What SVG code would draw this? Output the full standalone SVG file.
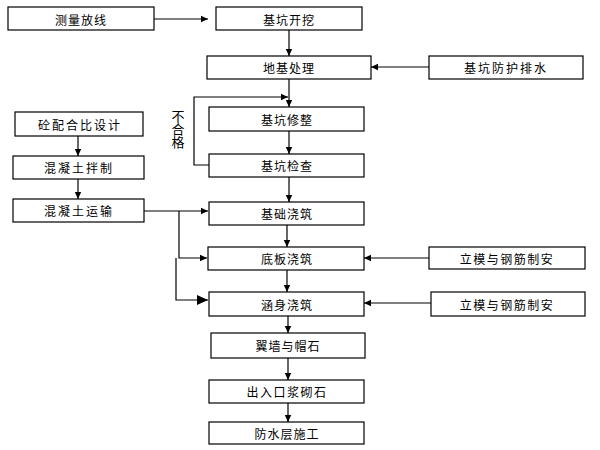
<svg xmlns="http://www.w3.org/2000/svg" width="600" height="450" viewBox="0 0 600 450">
<style>
.box{fill:#fff;stroke:#000;stroke-width:1.2}
.t{font-family:"Noto Sans CJK SC","Noto Sans",sans-serif;font-size:12px;text-anchor:middle;dominant-baseline:central;fill:#000;letter-spacing:1px}
.v{font-family:"Noto Sans CJK SC","Noto Sans",sans-serif;font-size:13px;text-anchor:middle;fill:#000;writing-mode:vertical-rl}
.c{fill:none;stroke:#000;stroke-width:1.2}
</style>
<defs>
<marker id="a" markerWidth="8" markerHeight="8" refX="7" refY="4" orient="auto" markerUnits="userSpaceOnUse"><path d="M0,0.8 L7,4 L0,7.2 Z" fill="#000"/></marker>
<marker id="b" markerWidth="12" markerHeight="10" refX="11" refY="5" orient="auto" markerUnits="userSpaceOnUse"><path d="M0,0 L11,5 L0,10 Z" fill="#000"/></marker>
</defs>
<g id="connectors">
<line class="c" x1="154" y1="19" x2="208" y2="19" marker-end="url(#a)"/>
<line class="c" x1="289" y1="30" x2="289" y2="56" marker-end="url(#a)"/>
<line class="c" x1="429" y1="67" x2="371" y2="67" marker-end="url(#a)"/>
<line class="c" x1="289" y1="79" x2="289" y2="107" marker-end="url(#a)"/>
<polyline class="c" points="209,165 194,165 194,97 288,97" marker-end="url(#a)"/>
<line class="c" x1="289" y1="131" x2="289" y2="154" marker-end="url(#a)"/>
<line class="c" x1="289" y1="177" x2="289" y2="202" marker-end="url(#a)"/>
<line class="c" x1="78" y1="136" x2="78" y2="156" marker-end="url(#a)"/>
<line class="c" x1="78" y1="179" x2="78" y2="199" marker-end="url(#a)"/>
<line class="c" x1="144" y1="211" x2="208" y2="211" marker-end="url(#a)"/>
<polyline class="c" points="179,211 179,258 207,258" marker-end="url(#a)"/>
<polyline class="c" points="176,258 176,300 208,300" marker-end="url(#b)"/>
<line class="c" x1="287" y1="225" x2="287" y2="247" marker-end="url(#a)"/>
<line class="c" x1="287" y1="270" x2="287" y2="292" marker-end="url(#a)"/>
<line class="c" x1="429" y1="258" x2="364" y2="258" marker-end="url(#a)"/>
<line class="c" x1="431" y1="303" x2="364" y2="303" marker-end="url(#a)"/>
<line class="c" x1="288" y1="316" x2="288" y2="333" marker-end="url(#a)"/>
<line class="c" x1="288" y1="358" x2="288" y2="380" marker-end="url(#a)"/>
<line class="c" x1="288" y1="403" x2="288" y2="422" marker-end="url(#a)"/>
</g>
<g id="n1"><rect class="box" x="8" y="7" width="146" height="23"/><text class="t" x="81" y="19">测量放线</text></g>
<g id="n2"><rect class="box" x="216" y="7" width="146" height="23"/><text class="t" x="289" y="19">基坑开挖</text></g>
<g id="n3"><rect class="box" x="207" y="56" width="164" height="23"/><text class="t" x="289" y="67">地基处理</text></g>
<g id="n4"><rect class="box" x="429" y="56" width="154" height="23"/><text class="t" x="506" y="67" style="letter-spacing:2px">基坑防护排水</text></g>
<g id="n5"><rect class="box" x="209" y="107" width="155" height="24"/><text class="t" x="287" y="119">基坑修整</text></g>
<g id="n6"><rect class="box" x="209" y="154" width="155" height="23"/><text class="t" x="287" y="165">基坑检查</text></g>
<g id="lbl"><text class="v" x="178" y="129">不合格</text></g>
<g id="n7"><rect class="box" x="15" y="112" width="128" height="24"/><text class="t" x="80" y="124" style="letter-spacing:2px">砼配合比设计</text></g>
<g id="n8"><rect class="box" x="13" y="156" width="131" height="23"/><text class="t" x="79" y="167" style="letter-spacing:2px">混凝土拌制</text></g>
<g id="n9"><rect class="box" x="13" y="199" width="131" height="23"/><text class="t" x="79" y="210" style="letter-spacing:2px">混凝土运输</text></g>
<g id="n10"><rect class="box" x="209" y="202" width="155" height="23"/><text class="t" x="287" y="213">基础浇筑</text></g>
<g id="n11"><rect class="box" x="208" y="247" width="156" height="23"/><text class="t" x="287" y="258">底板浇筑</text></g>
<g id="n12"><rect class="box" x="429" y="247" width="156" height="22"/><text class="t" x="507" y="258" style="letter-spacing:1.5px">立模与钢筋制安</text></g>
<g id="n13"><rect class="box" x="209" y="292" width="155" height="24"/><text class="t" x="287" y="304">涵身浇筑</text></g>
<g id="n14"><rect class="box" x="431" y="292" width="154" height="24"/><text class="t" x="507" y="304" style="letter-spacing:1.5px">立模与钢筋制安</text></g>
<g id="n15"><rect class="box" x="211" y="333" width="154" height="25"/><text class="t" x="288" y="345">翼墙与帽石</text></g>
<g id="n16"><rect class="box" x="209" y="380" width="155" height="23"/><text class="t" x="287" y="391" style="letter-spacing:1.5px">出入口浆砌石</text></g>
<g id="n17"><rect class="box" x="209" y="422" width="155" height="22"/><text class="t" x="287" y="433">防水层施工</text></g>
</svg>
